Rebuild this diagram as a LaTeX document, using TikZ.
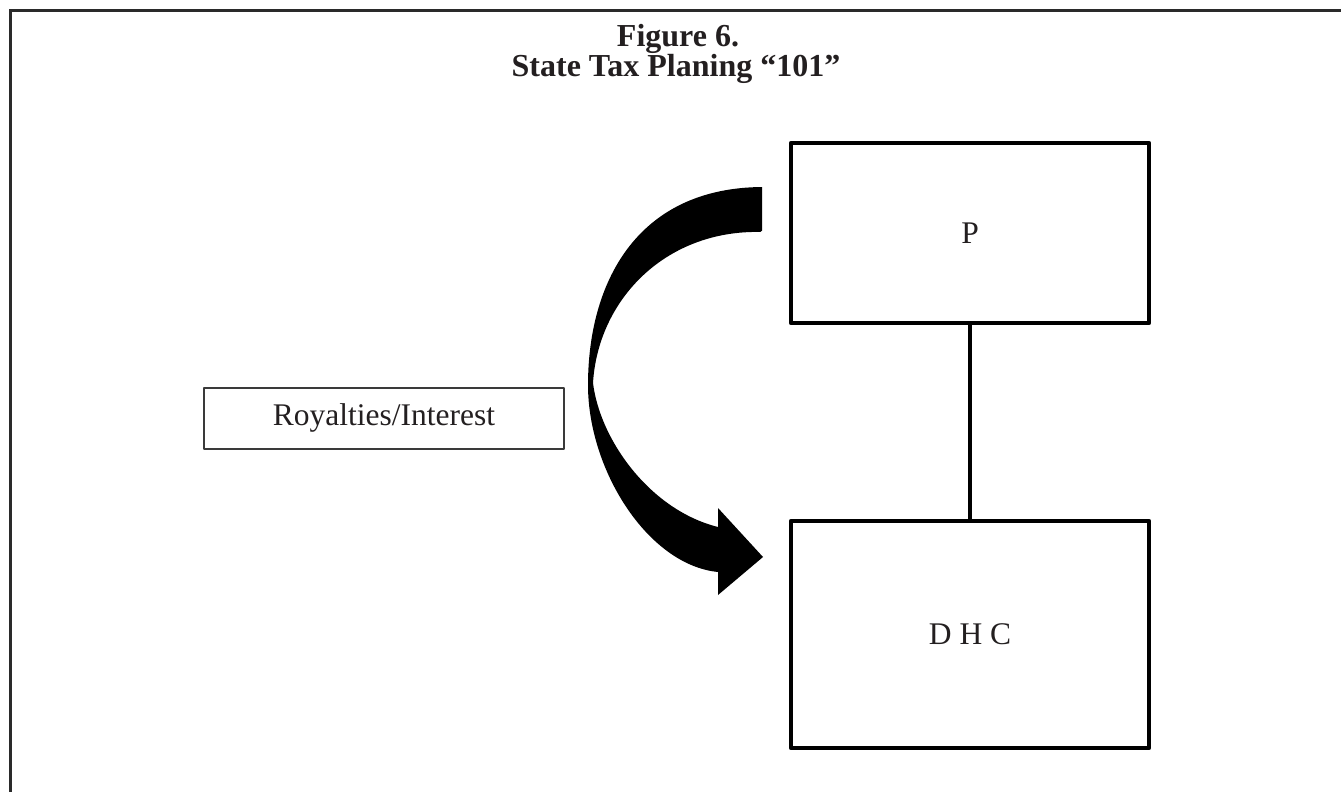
\documentclass[tikz,border=0pt]{standalone}
\usepackage{fontspec}
\setmainfont{Liberation Serif}
\definecolor{ink}{HTML}{231F20}
\definecolor{framegray}{HTML}{2A2A2A}
\definecolor{softbox}{HTML}{3A3A3A}
\begin{document}
\begin{tikzpicture}[x=1pt,y=-1pt,
  entity/.style={draw=black, line width=4.5pt, line join=round, fill=white,
    inner sep=0pt, text=ink, font=\fontsize{31.5}{34}\selectfont},
  labelbox/.style={draw=softbox, line width=2pt, line join=round,
    minimum width=360pt, minimum height=61pt, inner sep=0pt, text=ink,
    font=\fontsize{31.5}{34}\selectfont},
  titleline/.style={anchor=base, inner sep=0pt, text=ink,
    font=\fontsize{32}{30}\selectfont\bfseries},
  link/.style={draw=black, line width=4.5pt}]
  \useasboundingbox (0,0) rectangle (1341,792);
  \begin{scope}
    \clip (0,0) rectangle (1341,792);
    % outer frame, open to the right and below
    \draw[framegray, line width=3pt, line join=miter] (10,800) -- (10,11) -- (1350,11);
  \end{scope}

  % heading
  \node[titleline] (title1) at (678,47) {Figure 6.};
  \node[titleline] (title2) at (676,77) {State Tax Planing “101”};

  % entities
  \node[entity, minimum width=358pt, minimum height=180pt] (P) at (970,233) {P};
  \node[entity, minimum width=358pt, minimum height=227pt] (DHC) at (970,634.5) {D H C};
  \draw[link] (P.south) -- (DHC.north);

  % payment label
  \node[labelbox] (pay) at (384,418) {Royalties/Interest};

  % curved flow arrow from P down to DHC
  \fill[black, rounded corners=1.5pt]
    (762,187) -- (762,232) [sharp corners]
    .. controls (665,230) and (598,300) .. (593,383)
    .. controls (600,440) and (650,510) .. (718,527)
    -- (718,508) -- (763,557) -- (718,595) -- (718,572)
    .. controls (648,565) and (588,470) .. (588,385)
    .. controls (588,285) and (635,188) .. (762,187) -- cycle;
\end{tikzpicture}
\end{document}
